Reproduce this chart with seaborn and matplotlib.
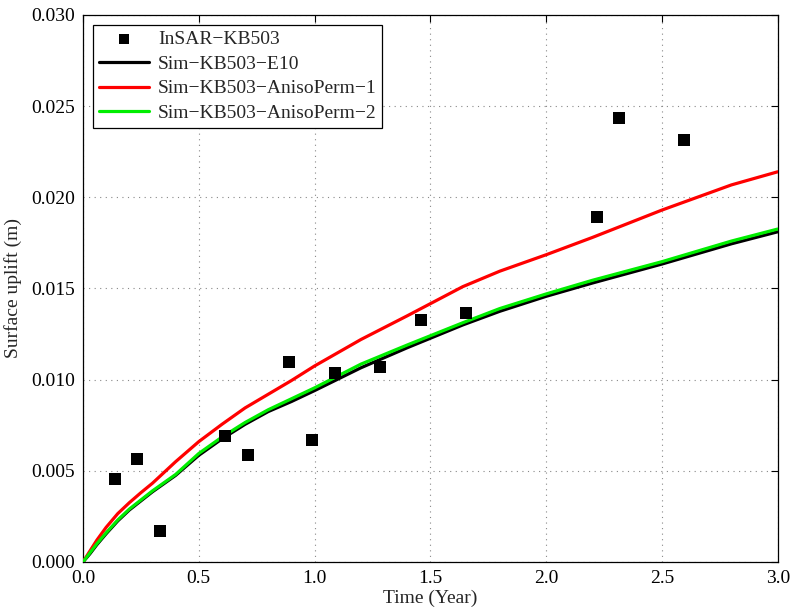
import numpy as np
import pandas as pd
import matplotlib
matplotlib.use("Agg")
import matplotlib.pyplot as plt
import seaborn as sns

# InSAR observations at well KB503
insar_time = [0.138, 0.235, 0.334, 0.614, 0.712, 0.888, 0.991, 1.087, 1.284,
              1.460, 1.653, 2.218, 2.314, 2.594]
insar_uplift = [0.00455, 0.00567, 0.00170, 0.00691, 0.00585, 0.01095, 0.00670,
                0.01037, 0.01070, 0.01329, 0.01364, 0.01890, 0.02437, 0.02314]

# Simulated uplift histories
sim_time = [0.0, 0.03, 0.06, 0.10, 0.15, 0.20, 0.25, 0.30, 0.40, 0.50, 0.60,
            0.70, 0.80, 0.90, 1.00, 1.20, 1.40, 1.64, 1.80, 2.00, 2.20, 2.50,
            2.80, 3.00]
sim_e10 = [0.0, 0.00045, 0.00095, 0.00155, 0.00225, 0.00285, 0.00335, 0.00385,
           0.00475, 0.00585, 0.00675, 0.00755, 0.00825, 0.00880, 0.00940,
           0.01065, 0.01175, 0.01300, 0.01375, 0.01457, 0.01530, 0.01634,
           0.01745, 0.01811]
sim_aniso1 = [0.0, 0.00060, 0.00120, 0.00190, 0.00265, 0.00325, 0.00380,
              0.00432, 0.00550, 0.00660, 0.00755, 0.00845, 0.00920, 0.00995,
              0.01075, 0.01220, 0.01350, 0.01510, 0.01595, 0.01685, 0.01780,
              0.01930, 0.02068, 0.02140]
sim_aniso2 = [0.0, 0.00050, 0.00100, 0.00160, 0.00230, 0.00290, 0.00340,
              0.00390, 0.00480, 0.00595, 0.00685, 0.00765, 0.00835, 0.00895,
              0.00955, 0.01085, 0.01190, 0.01312, 0.01390, 0.01470, 0.01545,
              0.01647, 0.01760, 0.01826]

series_names = ["Sim\u2212KB503\u2212E10", "Sim\u2212KB503\u2212AnisoPerm\u22121",
                "Sim\u2212KB503\u2212AnisoPerm\u22122"]
series_colors = ["#000000", "#ff0000", "#00ee00"]

sim_df = pd.concat([
    pd.DataFrame({"t": sim_time, "u": vals, "run": name})
    for name, vals in zip(series_names, [sim_e10, sim_aniso1, sim_aniso2])
])
obs_df = pd.DataFrame({"t": insar_time, "u": insar_uplift})

sns.set_style("white")
plt.rcParams["font.family"] = ["Liberation Serif", "DejaVu Serif"]
plt.rcParams["mathtext.fontset"] = "stix"

fig = plt.figure(figsize=(7.94, 6.11), dpi=100)
ax = fig.add_axes([0.1045, 0.0802, 0.8750, 0.8953])

sns.scatterplot(data=obs_df, x="t", y="u", marker="s", s=75, color="black",
                edgecolor="black", linewidth=0, ax=ax, label="InSAR\u2212KB503",
                zorder=4)
sns.lineplot(data=sim_df, x="t", y="u", hue="run", palette=series_colors,
             hue_order=series_names, linewidth=2.3, ax=ax, sort=False,
             estimator=None, zorder=3)

ax.set_xlim(0, 3)
ax.set_ylim(0, 0.03)
ax.set_xticks(np.arange(0, 3.01, 0.5))
ax.set_yticks(np.arange(0, 0.0301, 0.005))
ax.xaxis.set_major_formatter(matplotlib.ticker.FormatStrFormatter("%.1f"))
ax.yaxis.set_major_formatter(matplotlib.ticker.FormatStrFormatter("%.3f"))
ax.tick_params(direction="in", top=True, right=True, length=5, width=0.8,
               labelsize=14, colors="black", pad=6)
ax.grid(True, linestyle=(0, (1, 4)), color="#888888", linewidth=0.8)
for sp in ax.spines.values():
    sp.set_visible(True)
    sp.set_color("black")
    sp.set_linewidth(0.9)

ax.set_xlabel("Time (Year)", fontsize=14, labelpad=2)
ax.set_ylabel("Surface uplift (m)", fontsize=14, labelpad=6)

leg = ax.legend(loc="upper left", fontsize=14, frameon=True, fancybox=False,
                edgecolor="black", framealpha=1, borderpad=0.3,
                labelspacing=0.36, handlelength=2.6, handletextpad=0.45,
                borderaxespad=0.5, markerscale=0.75)
leg.get_frame().set_linewidth(0.9)

fig.savefig("out.png", dpi=100)
